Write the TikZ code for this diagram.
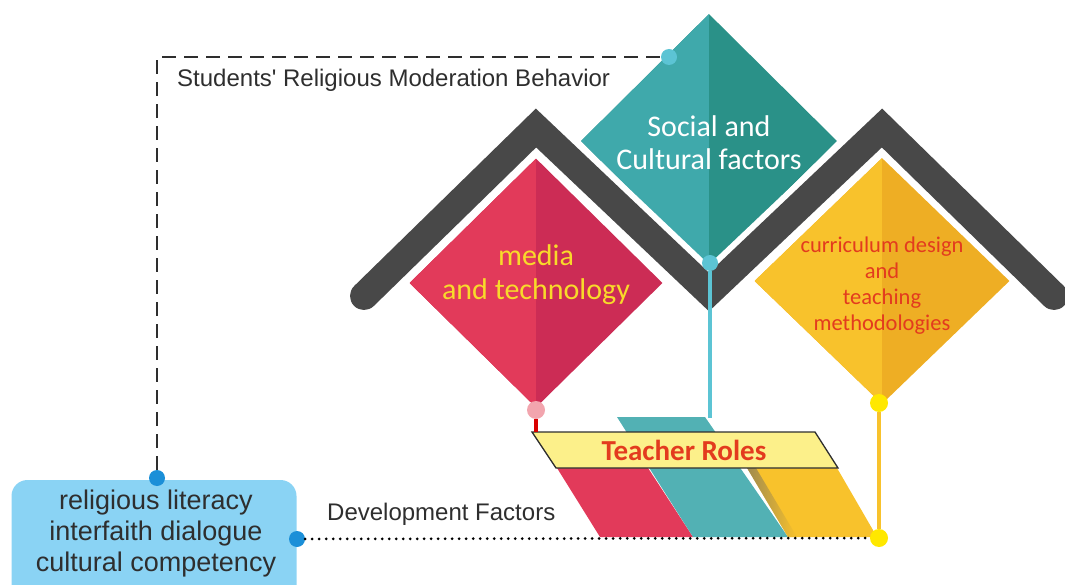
\documentclass[tikz,border=0pt]{standalone}
\usepackage{fontspec}
\setmainfont{Liberation Sans}
\newfontfamily\cali{Carlito}
\usetikzlibrary{shapes.geometric}
\definecolor{tealL}{HTML}{3FA9AB}
\definecolor{tealD}{HTML}{2A9188}
\definecolor{redL}{HTML}{E23A5A}
\definecolor{redD}{HTML}{CC2C55}
\definecolor{yelL}{HTML}{F8C22C}
\definecolor{yelD}{HTML}{EEAE24}
\definecolor{roofgray}{HTML}{484848}
\definecolor{skyblue}{HTML}{8AD3F4}
\definecolor{dotblue}{HTML}{1B8FD8}
\definecolor{dotcyan}{HTML}{5CC4D4}
\definecolor{dotpink}{HTML}{F2A5AE}
\definecolor{dotyel}{HTML}{FFE800}
\definecolor{txtred}{HTML}{E33B1E}
\definecolor{txtyel}{HTML}{F8DA2A}
\definecolor{bannerfill}{HTML}{FCF08A}
\definecolor{darktext}{HTML}{2E2E2E}
\tikzset{
  kite/.style 2 args={diamond,inner sep=0pt,minimum width=256pt,minimum height=254pt,
    fill=#2,path picture={\fill[#1] (path picture bounding box.south west) rectangle (path picture bounding box.north);}},
  blob/.style={circle,inner sep=0pt,minimum size=16pt,fill=#1},
  roof/.style={roofgray,line width=28pt,line join=miter,line cap=round},
  dashline/.style={darktext,line width=1.8pt,dash pattern=on 14pt off 8pt},
  dotline/.style={black,line width=3pt,line cap=round,dash pattern=on 0pt off 7pt},
  sidetext/.style={font=\fontsize{24}{28}\selectfont,text=darktext,anchor=west,inner sep=0pt},
}
\begin{document}
\begin{tikzpicture}[x=1pt,y=-1pt]
\useasboundingbox (0,0) rectangle (1065,585);
\clip (0,0) rectangle (1065,585);
%diamonds and roof
\node[kite={tealL}{tealD}] (social) at (709,141) {};
\draw[white,line width=40pt,line join=miter] (364,296) -- (536,128) -- (709,292) -- (882,128) -- (1054,296);
\draw[roof] (364,296) -- (536,128) -- (709,292) -- (882,128) -- (1054,296);
\node[kite={redL}{redD},minimum width=253pt,minimum height=249pt] (media) at (536,283) {};
\node[kite={yelL}{yelD},minimum width=255pt,minimum height=246pt] (curri) at (882,281) {};
\node[align=center,text=white,font=\cali\fontsize{30}{33}\selectfont] (socialtxt) at (709,143) {Social and\\Cultural factors};
\node[align=center,text=txtyel,font=\cali\fontsize{30}{34}\selectfont] (mediatxt) at (536,275) {media\\and technology};
\node[align=center,text=txtred,font=\cali\fontsize{22.5}{26}\selectfont] (curritxt) at (882,286) {curriculum design\\and\\teaching\\methodologies};
%slanted bands
\fill[redL] (557,468) -- (648,468) -- (693,537) -- (600,537) -- cycle;
\fill[tealL!90!white] (617,417) -- (705,417) -- (788,537) -- (693,537) -- cycle;
\fill[yelL] (747,468) -- (837,468) -- (877,537) -- (788,537) -- cycle;
\shade[left color=black!60,right color=yelL,opacity=0.6] (747,468) -- (756,468) -- (797,537) -- (788,537) -- cycle;
\draw[fill=bannerfill,draw=darktext,line width=1.3pt] (532,432) -- (815,432) -- (838,468) -- (556,468) -- cycle;
\node[text=txtred,font=\cali\bfseries\fontsize{29}{33}\selectfont] (roles) at (684,450) {Teacher Roles};
\coordinate (bantop) at (536,432);
\coordinate (tealtop) at (710,418);
%left box
\node[rounded corners=16pt,fill=skyblue,minimum width=285pt,minimum height=130pt] (lit) at (154,545) {};
\node[align=center,text=darktext,font=\fontsize{27}{31}\selectfont] (littxt) at (156,534) {religious literacy\\interfaith dialogue\\cultural competency};
\node[sidetext] (behav) at (177,80) {Students\textquotesingle\ Religious Moderation Behavior};
\node[sidetext] (devel) at (327,514) {Development Factors};
%dots
\node[blob=dotblue] (b1) at (157,478) {};
\node[blob=dotblue] (b2) at (297,539) {};
\node[blob=dotcyan] (c1) at (669,57) {};
\node[blob=dotcyan] (c2) at (710,263) {};
\node[blob=dotpink,minimum size=18pt] (p1) at (536,410) {};
\node[blob=dotyel,minimum size=18pt] (y1) at (879,403) {};
\node[blob=dotyel,minimum size=18pt] (y2) at (879,538) {};
%connectors
\draw[dashline] (b1) -- (b1 |- c1) -- (c1);
\draw[dotline] (b2) -- (y2);
\draw[dotcyan,line width=4pt] (c2) -- (tealtop);
\draw[red!85!black,line width=4pt] (p1) -- (bantop);
\draw[yelL,line width=4pt] (y1) -- (y2);
\end{tikzpicture}
\end{document}
